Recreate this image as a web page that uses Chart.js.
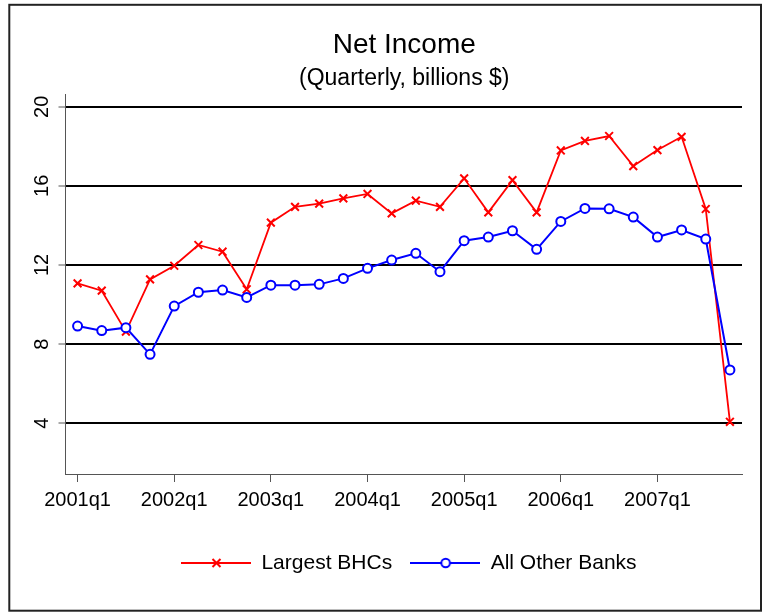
<!DOCTYPE html>
<html>
<head>
<meta charset="utf-8">
<title>Net Income</title>
<script src="https://cdn.jsdelivr.net/npm/chart.js@4.4.1/dist/chart.umd.min.js"></script>
<style>
  html, body { margin: 0; padding: 0; background: #fff; }
  canvas { display: block; }
</style>
</head>
<body>
<canvas id="netIncome" width="770" height="612"></canvas>
<script>
const quarters = [
  "2001q1", "2001q2", "2001q3", "2001q4",
  "2002q1", "2002q2", "2002q3", "2002q4",
  "2003q1", "2003q2", "2003q3", "2003q4",
  "2004q1", "2004q2", "2004q3", "2004q4",
  "2005q1", "2005q2", "2005q3", "2005q4",
  "2006q1", "2006q2", "2006q3", "2006q4",
  "2007q1", "2007q2", "2007q3", "2007q4"
];
const largestBHCs = [
  11.07, 10.70, 8.63, 11.27,
  11.96, 13.01, 12.67, 10.77,
  14.14, 14.94, 15.10, 15.37,
  15.59, 14.61, 15.25, 14.94,
  16.38, 14.66, 16.29, 14.66,
  17.79, 18.27, 18.52, 17.00,
  17.81, 18.48, 14.83, 4.07
];
const otherBanks = [
  8.91, 8.68, 8.83, 7.48,
  9.92, 10.62, 10.73, 10.36,
  10.98, 10.98, 11.02, 11.32,
  11.83, 12.25, 12.59, 11.66,
  13.23, 13.41, 13.73, 12.79,
  14.20, 14.86, 14.84, 14.42,
  13.41, 13.77, 13.31, 6.69
];
const yTicks = [4, 8, 12, 16, 20];

Chart.defaults.font.family = "'Liberation Sans', Arial, sans-serif";
Chart.defaults.color = "#000";

// legend key: line with the marker in the middle
function legendIcon(color, marker) {
  const c = document.createElement("canvas");
  c.width = 70;
  c.height = 16;
  const g = c.getContext("2d");
  g.strokeStyle = color;
  g.lineWidth = 2;
  g.beginPath();
  g.moveTo(0, 8);
  g.lineTo(70, 8);
  g.stroke();
  g.lineWidth = 2;
  if (marker === "cross") {
    g.beginPath();
    g.moveTo(31.5, 4); g.lineTo(39.5, 12);
    g.moveTo(39.5, 4); g.lineTo(31.5, 12);
    g.stroke();
  } else {
    g.fillStyle = "#fff";
    g.beginPath();
    g.arc(35.5, 8, 4.3, 0, Math.PI * 2);
    g.fill();
    g.stroke();
  }
  return c;
}
const icons = [legendIcon("#ff0000", "cross"), legendIcon("#0000ff", "circle")];

// outer frame + white background
const frame = {
  id: "frame",
  beforeDraw(chart) {
    const ctx = chart.ctx;
    ctx.save();
    ctx.fillStyle = "#fff";
    ctx.fillRect(0, 0, chart.width, chart.height);
    ctx.restore();
  },
  afterDraw(chart) {
    const ctx = chart.ctx;
    ctx.save();
    ctx.strokeStyle = "#222";
    ctx.lineWidth = 2;
    ctx.strokeRect(9.3, 4.8, 751.7, 605.9);
    ctx.restore();
  }
};

// titles and legend sit a bit right of the plot centre
const shiftBoxes = {
  id: "shiftBoxes",
  afterLayout(chart) {
    chart.boxes.forEach(b => {
      let dx = 0;
      if (b === chart.legend) dx = 33;
      else if (b.fullSize && b.position === "top") dx = 28.5;
      b.left += dx;
      b.right += dx;
    });
  }
};

new Chart(document.getElementById("netIncome"), {
  type: "line",
  data: {
    labels: quarters,
    datasets: [
      {
        label: "Largest BHCs",
        data: largestBHCs,
        borderColor: "#ff0000",
        backgroundColor: "#ff0000",
        borderWidth: 1.8,
        pointStyle: "crossRot",
        pointRadius: 5.5,
        pointBorderWidth: 2,
        pointBorderColor: "#ff0000",
        order: 1
      },
      {
        label: "All Other Banks",
        data: otherBanks,
        borderColor: "#0000ff",
        backgroundColor: "#ffffff",
        borderWidth: 2,
        pointStyle: "circle",
        pointRadius: 4.5,
        pointBorderWidth: 2,
        pointBorderColor: "#0000ff",
        pointBackgroundColor: "#ffffff",
        order: 0
      }
    ]
  },
  options: {
    responsive: false,
    animation: false,
    layout: { padding: { left: 9.5, right: 28, top: 0, bottom: 28.5 } },
    plugins: {
      title: {
        display: true,
        text: "Net Income",
        color: "#000",
        font: { size: 28, weight: "normal" },
        padding: { top: 28, bottom: 0 }
      },
      subtitle: {
        display: true,
        text: "(Quarterly, billions $)",
        color: "#000",
        font: { size: 23 },
        padding: { top: 3, bottom: 1.9 }
      },
      legend: {
        position: "bottom",
        labels: {
          usePointStyle: true,
          pointStyleWidth: 70,
          padding: 18,
          color: "#000",
          font: { size: 21 },
          generateLabels(chart) {
            const items = Chart.defaults.plugins.legend.labels.generateLabels(chart);
            items.sort((a, b) => a.datasetIndex - b.datasetIndex);
            items.forEach(it => { it.pointStyle = icons[it.datasetIndex]; });
            return items;
          }
        }
      },
      tooltip: { enabled: false }
    },
    scales: {
      x: {
        offset: true,
        grid: {
          drawOnChartArea: false,
          tickLength: 8,
          lineWidth: 1,
          color: ctx => (ctx.index % 4 === 0 ? "#555" : "rgba(0,0,0,0)")
        },
        border: { color: "#555", width: 1 },
        ticks: {
          autoSkip: false,
          maxRotation: 0,
          padding: 6,
          color: "#000",
          font: { size: 20 },
          callback(v, i) { return i % 4 === 0 ? this.getLabelForValue(v) : ""; }
        },
        afterFit(s) { s.height = 60.5; }
      },
      y: {
        min: 1.43,
        max: 20.64,
        afterBuildTicks(s) { s.ticks = yTicks.map(v => ({ value: v })); },
        grid: { color: "#000", lineWidth: 2, tickColor: "#555", tickWidth: 1, tickLength: 7 },
        border: { color: "#555", width: 1 },
        ticks: {
          minRotation: 90,
          maxRotation: 90,
          crossAlign: "center",
          padding: 5,
          color: "#000",
          font: { size: 20 }
        },
        afterFit(s) { s.width = 56; }
      }
    }
  },
  plugins: [frame, shiftBoxes]
});
</script>
</body>
</html>
